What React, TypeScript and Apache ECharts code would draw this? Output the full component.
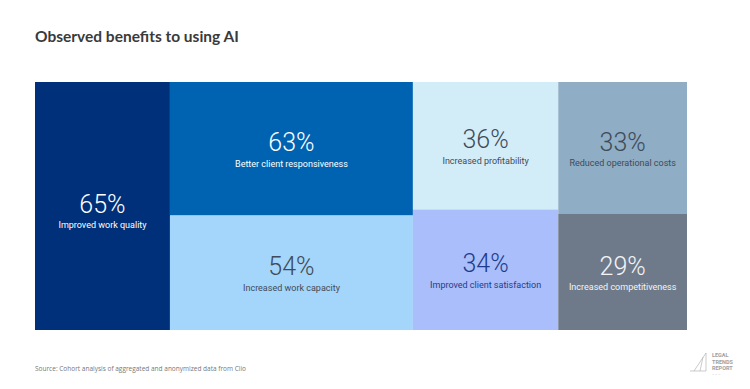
import React, { useEffect, useRef } from "react";
import * as echarts from "echarts";

const titleText = "Observed benefits to using AI";
const sourceText = "Source: Cohort analysis of aggregated and anonymized data from Clio";

// columns of the layout (each column is a group)
const groupNames = ["col1", "col2", "col3", "col4"];
const leafLabels = [
  ["Improved work quality"],
  ["Better client responsiveness", "Increased work capacity"],
  ["Increased profitability", "Improved client satisfaction"],
  ["Reduced operational costs", "Increased competitiveness"],
];
const leafValues = [[65], [63, 54], [36, 34], [33, 29]];
const leafColors = [
  ["#00307A"],
  ["#0063B1", "#A4D5FA"],
  ["#D3EDF8", "#A9BEFA"],
  ["#8FADC4", "#6E7A8A"],
];
const textColors = [
  ["#FFFFFF"],
  ["#FFFFFF", "#3F4B59"],
  ["#3F4B59", "#1F3C8C"],
  ["#3F4B59", "#F2F4F7"],
];

const PLOT_H = 248;
const BLOCK_H = 42; // number line (30) + description line (12)

export default function App() {
  const ref = useRef<HTMLDivElement>(null);
  useEffect(() => {
    document.body.style.margin = "0";
    if (!ref.current) return;
    const chart = echarts.init(ref.current, null, { renderer: "svg" });

    const makeLeaf = (gi: number, li: number) => {
      const vals = leafValues[gi];
      const sum = vals.reduce((a, b) => a + b, 0);
      const cellH = (vals[li] / sum) * PLOT_H;
      const dy = (cellH - BLOCK_H) / 2 + (gi === 0 ? 4 : 0);
      return {
        name: leafLabels[gi][li],
        value: vals[li],
        itemStyle: { color: leafColors[gi][li], borderWidth: 0, gapWidth: 0 },
        label: {
          show: true,
          position: "inside",
          align: "center",
          padding: 0,
          offset: [0, dy],
          color: textColors[gi][li],
          formatter: (p: any) => `{n|${p.value}%}\n{d|${p.name}}`,
          rich: {
            n: {
              fontFamily: "Roboto",
              fontWeight: 300,
              fontSize: 25,
              lineHeight: 30,
              color: textColors[gi][li],
              align: "center",
            },
            d: {
              fontFamily: "Roboto",
              fontSize: 9,
              lineHeight: 12,
              color: textColors[gi][li],
              align: "center",
            },
          },
        },
      };
    };

    const data = groupNames.map((g, gi) => {
      if (leafValues[gi].length === 1) return makeLeaf(gi, 0);
      return {
        name: g,
        label: { show: false },
        itemStyle: { borderWidth: 0, gapWidth: 0, color: "#fff" },
        children: leafValues[gi].map((_, li) => makeLeaf(gi, li)),
      };
    });

    chart.setOption({
      animation: false,
      backgroundColor: "#ffffff",
      graphic: [
        {
          type: "text",
          left: 35,
          top: 28,
          style: {
            text: titleText,
            fontFamily: "Lato",
            fontWeight: 700,
            fontSize: 15.5,
            fill: "#3a3a3a",
          },
        },
        {
          type: "text",
          left: 35,
          top: 365,
          style: {
            text: sourceText,
            fontFamily: "Open Sans",
            fontSize: 6.5,
            fill: "#777777",
          },
        },
        {
          type: "polyline",
          shape: { points: [[694, 371], [706, 353], [706, 371], [690, 371]] },
          style: { stroke: "#b5b5b5", lineWidth: 0.7, fill: null },
        },
        {
          type: "line",
          shape: { x1: 700, y1: 371, x2: 703, y2: 357 },
          style: { stroke: "#b5b5b5", lineWidth: 0.7 },
        },
        {
          type: "text",
          left: 712,
          top: 352,
          style: {
            text: "LEGAL\nTRENDS\nREPORT",
            fontFamily: "Roboto",
            fontWeight: 700,
            fontSize: 5.5,
            lineHeight: 6.5,
            fill: "#a0a0a0",
          },
        },
        {
          type: "text",
          left: 712,
          top: 373,
          style: {
            text: "\u2014 \u2014 \u2014",
            fontFamily: "Roboto",
            fontSize: 3,
            fill: "#c0c0c0",
          },
        },
      ],
      series: [
        {
          type: "treemap",
          left: 35,
          top: 82,
          width: 652,
          height: PLOT_H,
          sort: false,
          squareRatio: 1,
          roam: false,
          nodeClick: false,
          silent: true,
          breadcrumb: { show: false },
          visibleMin: 0,
          itemStyle: { borderWidth: 0, gapWidth: 0 },
          upperLabel: { show: false },
          levels: [
            { itemStyle: { borderWidth: 0, gapWidth: 0 } },
            { itemStyle: { borderWidth: 0, gapWidth: 0 } },
            { itemStyle: { borderWidth: 0, gapWidth: 0 } },
          ],
          data,
        },
      ],
    });

    return () => chart.dispose();
  }, []);
  return <div ref={ref} style={{ width: 750, height: 389 }} />;
}
